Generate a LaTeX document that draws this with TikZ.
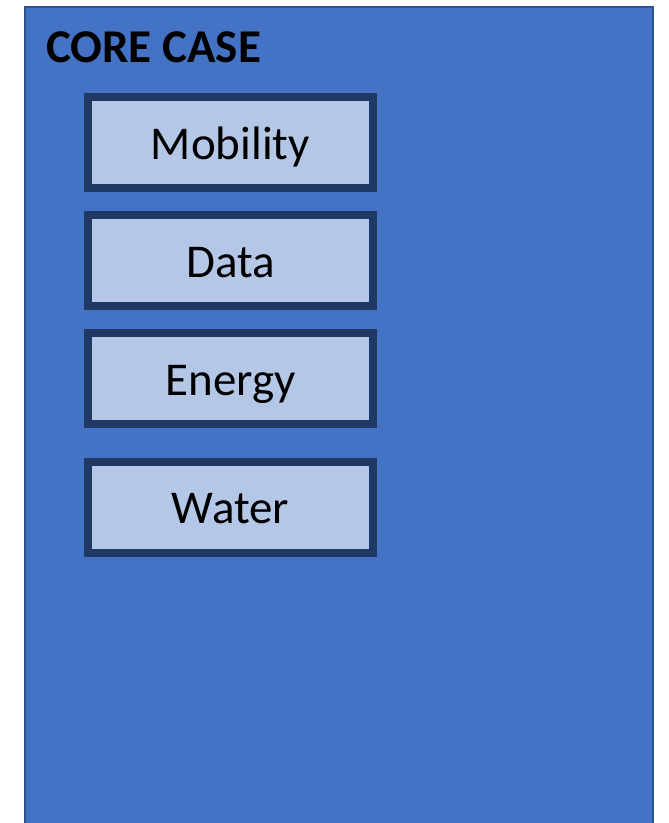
\documentclass[tikz,border=0pt]{standalone}
\usepackage{fontspec}
\setmainfont{Carlito}
\definecolor{panelfill}{HTML}{4472C4}
\definecolor{panelline}{HTML}{2F528F}
\definecolor{boxfill}{HTML}{B4C7E7}
\definecolor{boxline}{HTML}{203864}
\begin{document}
\begin{tikzpicture}[x=1pt,y=-1pt,
  casebox/.style={draw=boxline, fill=boxfill, line width=8pt, rectangle,
    minimum width=285pt, minimum height=91pt, inner sep=0pt, outer sep=0pt,
    text height=33.5pt, text depth=0pt,
    font=\fontsize{47}{56}\selectfont},
  titletext/.style={anchor=base west, inner sep=0pt,
    font=\fontsize{47}{56}\selectfont\bfseries}]
  \useasboundingbox (0,0) rectangle (669,823);
  % panel running off the bottom of the page
  \fill[panelfill] (25,7) rectangle (653,823);
  \draw[panelline, line width=2pt] (25,823) -- (25,7) -- (653,7) -- (653,823);
  \node[titletext] (title) at (46,62) {CORE CASE};
  \node[casebox] (mobility) at (230.5,142.7) {Mobility};
  \node[casebox] (data) at (230.5,260.8) {Data};
  \node[casebox] (energy) at (230.5,378.6) {Energy};
  \node[casebox] (water) at (230.5,507) {Water};
\end{tikzpicture}
\end{document}
